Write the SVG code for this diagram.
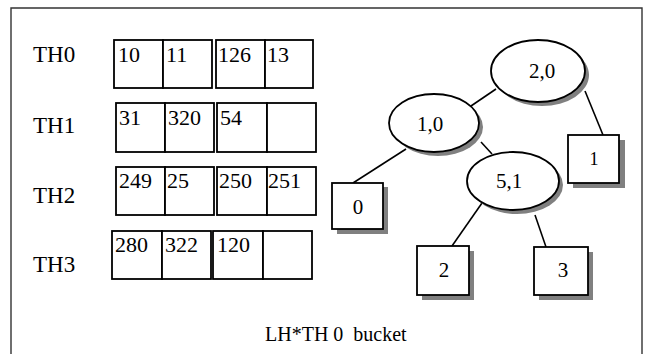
<svg xmlns="http://www.w3.org/2000/svg" width="653" height="354" viewBox="0 0 653 354">
<style>
text{font-family:"Liberation Serif","Times New Roman",serif;fill:#000}
.lbl{font-size:23px}
.num{font-size:22px}
.nd{font-size:21px;text-anchor:middle}
.cell{fill:#fff;stroke:#000;stroke-width:1.8}
.sh{fill:#808080;stroke:none}
.shape{fill:#fff;stroke:#000;stroke-width:1.8}
.edge{stroke:#000;stroke-width:1.6;fill:none}
</style>
<rect width="653" height="354" fill="#fff"/>
<path d="M11,354 V8 H642 V354" fill="none" stroke="#333" stroke-width="1.4"/>

<g id="row-TH0">
<text class="lbl" x="33" y="62">TH0</text>
<rect class="cell" x="114" y="40" width="49" height="48"/>
<rect class="cell" x="163" y="40" width="49" height="48"/>
<rect class="cell" x="216" y="40" width="49" height="48"/>
<rect class="cell" x="265" y="40" width="48" height="48"/>
<text class="num" x="118" y="62">10</text>
<text class="num" x="166" y="62">11</text>
<text class="num" x="218" y="62">126</text>
<text class="num" x="267" y="62">13</text>
</g>
<g id="row-TH1">
<text class="lbl" x="33" y="133">TH1</text>
<rect class="cell" x="116" y="103" width="49" height="49"/>
<rect class="cell" x="165" y="103" width="49" height="49"/>
<rect class="cell" x="217" y="103" width="50" height="49"/>
<rect class="cell" x="267" y="103" width="49" height="49"/>
<text class="num" x="119" y="125">31</text>
<text class="num" x="168" y="125">320</text>
<text class="num" x="220" y="125">54</text>
</g>
<g id="row-TH2">
<text class="lbl" x="33" y="203">TH2</text>
<rect class="cell" x="116" y="167" width="49" height="48"/>
<rect class="cell" x="165" y="167" width="49" height="48"/>
<rect class="cell" x="217" y="167" width="50" height="48"/>
<rect class="cell" x="267" y="167" width="49" height="48"/>
<text class="num" x="119" y="188">249</text>
<text class="num" x="167" y="188">25</text>
<text class="num" x="219" y="188">250</text>
<text class="num" x="268" y="188">251</text>
</g>
<g id="row-TH3">
<text class="lbl" x="33" y="272">TH3</text>
<rect class="cell" x="112" y="231" width="50" height="48"/>
<rect class="cell" x="162" y="231" width="49" height="48"/>
<rect class="cell" x="213" y="231" width="50" height="48"/>
<rect class="cell" x="263" y="231" width="49" height="48"/>
<text class="num" x="115" y="252">280</text>
<text class="num" x="165" y="252">322</text>
<text class="num" x="217" y="252">120</text>
</g>

<g id="connectors">
<line class="edge" x1="496" y1="89" x2="471" y2="106"/>
<line class="edge" x1="585" y1="91" x2="603" y2="135"/>
<line class="edge" x1="406" y1="149" x2="353" y2="183"/>
<line class="edge" x1="481" y1="142" x2="492" y2="154"/>
<line class="edge" x1="482" y1="203" x2="452" y2="246"/>
<line class="edge" x1="535" y1="215" x2="546" y2="247"/>
</g>

<g id="n-2-0">
<ellipse class="sh" cx="542" cy="75" rx="47" ry="31"/>
<ellipse class="shape" cx="538" cy="71" rx="47" ry="31"/>
<text class="nd" x="542" y="78">2,0</text>
</g>
<g id="n-1-0">
<ellipse class="sh" cx="438" cy="127" rx="45" ry="29"/>
<ellipse class="shape" cx="434" cy="123" rx="45" ry="29"/>
<text class="nd" x="430" y="131">1,0</text>
</g>
<g id="n-5-1">
<ellipse class="sh" cx="517" cy="185" rx="46" ry="29"/>
<ellipse class="shape" cx="513" cy="181" rx="46" ry="29"/>
<text class="nd" x="509" y="188">5,1</text>
</g>
<g id="b-1">
<rect class="sh" x="573" y="140" width="52" height="48"/>
<rect class="shape" x="568" y="135" width="51" height="48"/>
<text class="nd" x="594" y="165" style="font-size:18px">1</text>
</g>
<g id="b-0">
<rect class="sh" x="337" y="187" width="51" height="47"/>
<rect class="shape" x="332" y="183" width="51" height="46"/>
<text class="nd" x="358" y="214">0</text>
</g>
<g id="b-2">
<rect class="sh" x="422" y="251" width="52" height="49"/>
<rect class="shape" x="417" y="246" width="52" height="49"/>
<text class="nd" x="444" y="277">2</text>
</g>
<g id="b-3">
<rect class="sh" x="539" y="252" width="54" height="48"/>
<rect class="shape" x="534" y="247" width="54" height="48"/>
<text class="nd" x="563" y="277">3</text>
</g>

<text x="265" y="341" style="font-size:20px" xml:space="preserve">LH*TH 0  bucket</text>
</svg>
